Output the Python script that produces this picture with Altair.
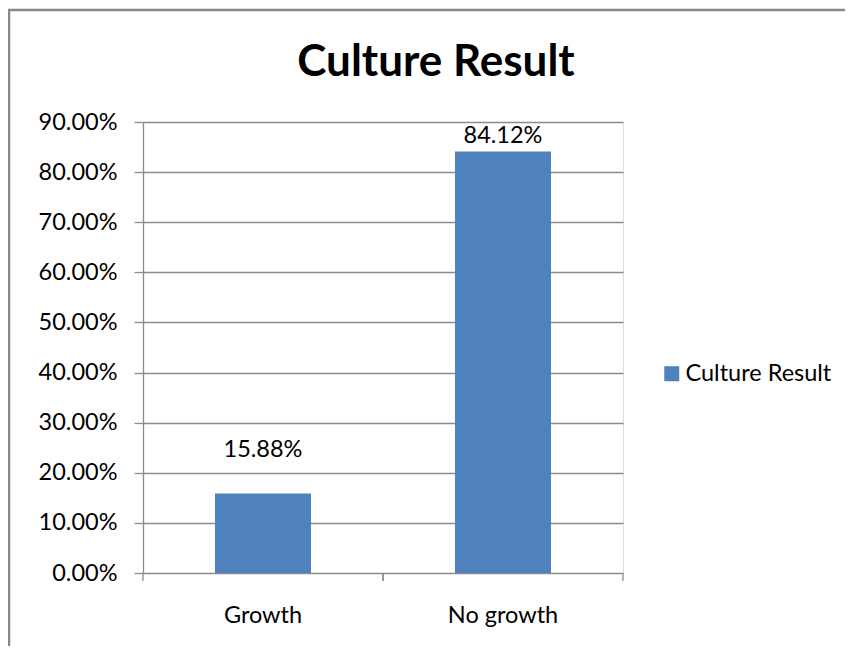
import altair as alt
import pandas as pd

categories = ["Growth", "No growth"]
values = [0.1588, 0.8412]
series_name = "Culture Result"
chart_title = "Culture Result"
y_ticks = [0.0, 0.1, 0.2, 0.3, 0.4, 0.5, 0.6, 0.7, 0.8, 0.9]

df = pd.DataFrame({"cat": categories, "val": values, "series": [series_name] * len(categories)})

W, H = 480, 451
FONT = "Lato"
FS = 23.5
GRID = "#8c8c8c"
BLUE = "#4f81bd"

x_enc = alt.X("cat:N", sort=categories, title=None,
              scale=alt.Scale(paddingInner=0, paddingOuter=0),
              axis=alt.Axis(labelAngle=0, ticks=False, domain=False, labelFont=FONT,
                            labelFontSize=FS, labelColor="#000000", labelPadding=30, grid=False))
y_enc = alt.Y("val:Q", title=None,
              scale=alt.Scale(domain=[0, 0.9], nice=False),
              axis=alt.Axis(values=y_ticks, format=".2%", labelFont=FONT, labelFontSize=FS,
                            labelColor="#000000", labelPadding=17, tickSize=9, tickColor=GRID,
                            domainColor=GRID, gridColor=GRID, gridWidth=1.3, domainWidth=1.3,
                            tickWidth=1.3))

base = alt.Chart(df)

bars = base.mark_bar(width={"band": 0.4}, color=BLUE).encode(
    x=x_enc,
    y=y_enc,
    color=alt.Color("series:N", scale=alt.Scale(range=[BLUE]),
                    legend=alt.Legend(title=None, orient="none", legendX=517, legendY=240,
                                      symbolType="square", symbolSize=225, labelFont=FONT,
                                      labelFontSize=FS, labelColor="#000000", labelOffset=2)),
)

lab_small = base.transform_filter(alt.datum.cat == categories[0]).mark_text(
    font=FONT, fontSize=FS, color="#000000", dy=-36, baseline="alphabetic").encode(
    x=alt.X("cat:N", sort=categories), y="val:Q", text=alt.Text("val:Q", format=".2%"))
lab_big = base.transform_filter(alt.datum.cat == categories[1]).mark_text(
    font=FONT, fontSize=FS, color="#000000", dy=-8, baseline="alphabetic").encode(
    x=alt.X("cat:N", sort=categories), y="val:Q", text=alt.Text("val:Q", format=".2%"))

ticks0 = base.mark_rule(color=GRID, strokeWidth=1.3).encode(
    x=alt.X("cat:N", sort=categories, bandPosition=0),
    y=alt.value(H), y2=alt.value(H + 8))
ticks1 = base.mark_rule(color=GRID, strokeWidth=1.3).encode(
    x=alt.X("cat:N", sort=categories, bandPosition=1),
    y=alt.value(H), y2=alt.value(H + 8))

one = pd.DataFrame({"t": [chart_title]})
frame = alt.Chart(one).mark_rect(
    fill=None, stroke="#888888", strokeWidth=2.5, clip=False).encode(
    x=alt.value(-134), x2=alt.value(800), y=alt.value(-112), y2=alt.value(700))

title = alt.Chart(one).mark_text(
    font=FONT, fontSize=44, fontWeight="bold", color="#000000",
    align="center", baseline="alphabetic").encode(
    x=alt.value(293), y=alt.value(-46), text="t:N")

chart = alt.layer(frame, bars, ticks0, ticks1, lab_small, lab_big, title).properties(
    width=W, height=H,
    padding={"left": 135, "top": 114, "right": 222, "bottom": 73},
    autosize=alt.AutoSizeParams(type="none"),
).configure_view(stroke=None).configure(background="white")

chart.save("out.html", embed_options={"renderer": "svg", "actions": False})
